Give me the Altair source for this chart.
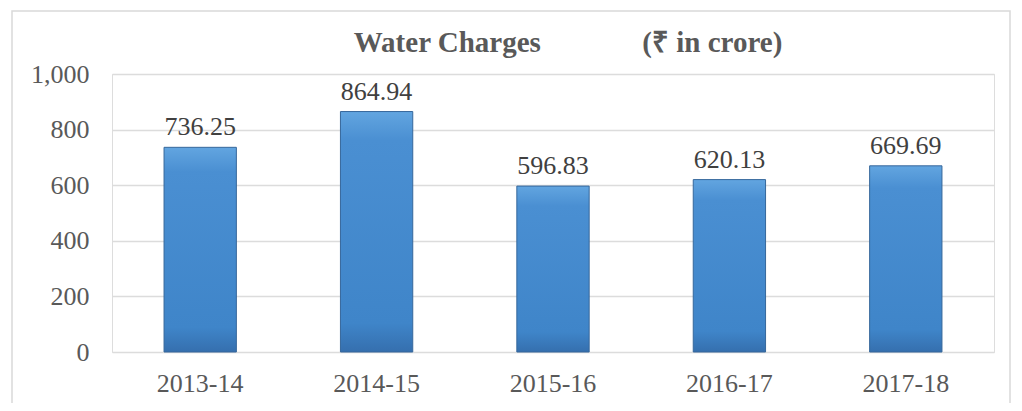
import altair as alt
import pandas as pd

years = ["2013-14", "2014-15", "2015-16", "2016-17", "2017-18"]
charges = [736.25, 864.94, 596.83, 620.13, 669.69]
y_ticks = [0, 200, 400, 600, 800, 1000]
title_text = ["Water Charges" + "\u00a0" * 14 + "(\u20b9 in crore)"]

df = pd.DataFrame({"year": years, "value": charges})
tdf = pd.DataFrame({"t": title_text})

FONT = "'Liberation Serif', 'Times New Roman', serif"
W, H = 882, 278

bar_fill = alt.Gradient(
    gradient="linear",
    stops=[
        alt.GradientStop(color="#62a5e0", offset=0),
        alt.GradientStop(color="#4a8fd2", offset=0.12),
        alt.GradientStop(color="#3f85c9", offset=0.88),
        alt.GradientStop(color="#356fae", offset=1),
    ],
    x1=0, x2=0, y1=0, y2=1,
)

base = alt.Chart(df).encode(
    x=alt.X(
        "year:N",
        sort=years,
        title=None,
        scale=alt.Scale(paddingInner=0.59, paddingOuter=0.295),
        axis=alt.Axis(
            labelAngle=0,
            labelFont=FONT,
            labelFontSize=26,
            labelColor="#595959",
            labelPadding=18,
            ticks=False,
            domain=False,
            grid=False,
        ),
    ),
    y=alt.Y(
        "value:Q",
        title=None,
        scale=alt.Scale(domain=[0, 1000], nice=False),
        axis=alt.Axis(
            values=y_ticks,
            format=",.0f",
            labelFont=FONT,
            labelFontSize=26,
            labelColor="#595959",
            labelPadding=23,
            ticks=False,
            domain=False,
            grid=True,
            gridColor="#dcdcdc",
            gridWidth=1.5,
        ),
    ),
)

bars = base.mark_bar(fill=bar_fill, stroke="#36679b", strokeWidth=1)

labels = base.mark_text(
    font=FONT, fontSize=26, color="#404040", baseline="alphabetic", dy=-12
).encode(text=alt.Text("value:Q", format=".2f"))

frame = alt.Chart(pd.DataFrame({"k": [0]})).mark_rect(
    filled=False, stroke="#d9d9d9", strokeWidth=1.5
).encode(
    x=alt.value(-100), x2=alt.value(898), y=alt.value(-63), y2=alt.value(400)
)

title = alt.Chart(tdf).mark_text(
    font=FONT, fontSize=29, fontWeight="bold", color="#595959",
    align="center", baseline="alphabetic",
).encode(text="t:N", x=alt.value(W / 2 + 15), y=alt.value(-22))

chart = alt.layer(frame, bars, labels, title).properties(
    width=W,
    height=H,
    autosize=alt.AutoSizeParams(type="none"),
    padding={"left": 104, "top": 66, "right": 20, "bottom": 51},
).configure_view(stroke=None).configure(background="white")

chart.save("out.html", embed_options={"renderer": "svg", "actions": False})
